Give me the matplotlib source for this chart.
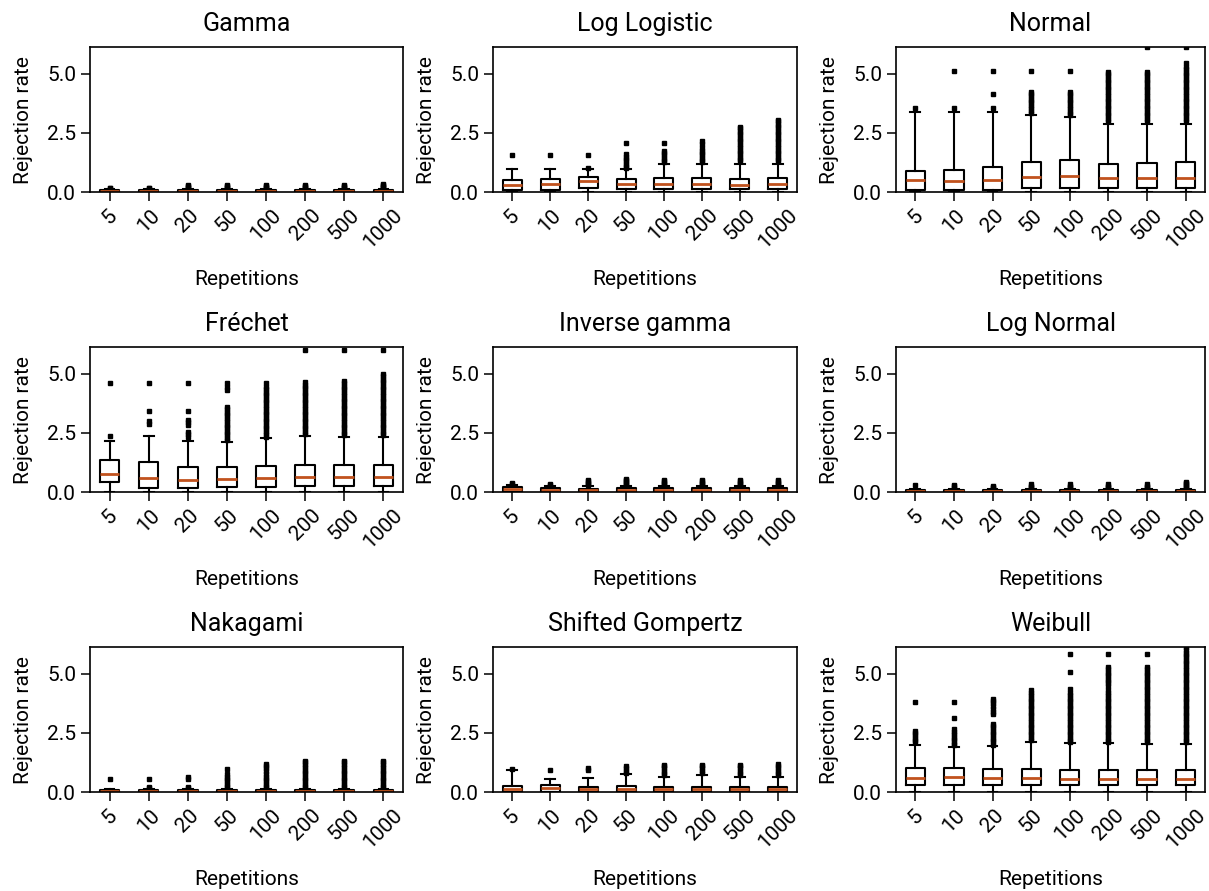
import matplotlib
matplotlib.use("Agg")
import matplotlib.pyplot as plt

plt.rcParams['font.family'] = ['Roboto', 'DejaVu Sans']

# -----------------------------
# Data
# -----------------------------
reps = ["5", "10", "20", "50", "100", "200", "500", "1000"]

# Gamma
gamma_q1 = [0.01, 0.01, 0.01, 0.01, 0.01, 0.01, 0.01, 0.01]
gamma_med = [0.04, 0.04, 0.05, 0.05, 0.05, 0.05, 0.05, 0.05]
gamma_q3 = [0.07, 0.07, 0.08, 0.08, 0.08, 0.08, 0.08, 0.08]
gamma_hi = [0.12, 0.12, 0.13, 0.13, 0.13, 0.13, 0.13, 0.13]
gamma_fliers = [
    [0.16, 0.19],
    [0.15, 0.18],
    [0.16, 0.2, 0.25, 0.3],
    [0.16, 0.2, 0.25, 0.3],
    [0.16, 0.2, 0.25, 0.3],
    [0.16, 0.2, 0.25, 0.3],
    [0.16, 0.2, 0.25, 0.3],
    [0.16, 0.2, 0.25, 0.3, 0.35],
]

# Log Logistic
ll_q1 = [0.1, 0.1, 0.17, 0.13, 0.13, 0.13, 0.13, 0.13]
ll_med = [0.31, 0.34, 0.45, 0.34, 0.34, 0.34, 0.31, 0.34]
ll_q3 = [0.51, 0.54, 0.62, 0.55, 0.59, 0.59, 0.55, 0.58]
ll_hi = [0.99, 0.99, 0.97, 0.97, 1.2, 1.2, 1.2, 1.2]
ll_fliers = [
    [1.58],
    [1.58],
    [1.0, 1.58],
    [1.0, 1.1, 1.2, 1.3, 1.4, 1.5, 1.6, 2.07],
    [1.25, 1.35, 1.45, 1.55, 1.65, 1.75, 2.07],
    [1.25, 1.35, 1.45, 1.55, 1.65, 1.75, 1.85, 2.05, 2.15],
    [1.3, 1.4, 1.5, 1.6, 1.7, 1.8, 1.9, 2.0, 2.1, 2.2, 2.3,
     2.4, 2.5, 2.6, 2.7, 2.75],
    [1.3, 1.4, 1.5, 1.6, 1.7, 1.8, 1.9, 2.0, 2.1, 2.2, 2.3,
     2.4, 2.5, 2.6, 2.7, 2.8, 2.9, 3.0, 3.05],
]

# Normal
n_q1 = [0.07, 0.07, 0.07, 0.16, 0.16, 0.16, 0.16, 0.16]
n_med = [0.51, 0.48, 0.52, 0.65, 0.66, 0.61, 0.61, 0.61]
n_q3 = [0.88, 0.93, 1.06, 1.26, 1.37, 1.19, 1.23, 1.26]
n_hi = [3.39, 3.39, 3.39, 3.26, 3.16, 2.9, 2.9, 2.9]
n_fliers = [
    [3.55],
    [3.55, 5.11],
    [3.55, 4.17, 5.11],
    [3.35, 3.45, 3.55, 3.65, 3.75, 3.85, 3.95, 4.05, 4.15, 4.25, 5.11],
    [3.25, 3.35, 3.45, 3.55, 3.65, 3.75, 3.85, 3.95, 4.05, 4.15,
     4.25, 5.11],
    [3.0, 3.1, 3.2, 3.3, 3.4, 3.5, 3.6, 3.7, 3.8, 3.9, 4.0, 4.1,
     4.2, 4.3, 4.4, 4.5, 4.6, 4.7, 4.8, 4.9, 5.0, 5.1],
    [3.0, 3.1, 3.2, 3.3, 3.4, 3.5, 3.6, 3.7, 3.8, 3.9, 4.0, 4.1,
     4.2, 4.3, 4.4, 4.5, 4.6, 4.7, 4.8, 4.9, 5.0, 5.1, 6.12],
    [3.0, 3.1, 3.2, 3.3, 3.4, 3.5, 3.6, 3.7, 3.8, 3.9, 4.0, 4.1,
     4.2, 4.3, 4.4, 4.5, 4.6, 4.7, 4.8, 4.9, 5.0, 5.1, 5.2, 5.3,
     5.45, 6.12],
]

# Frechet
f_q1 = [0.42, 0.17, 0.17, 0.21, 0.21, 0.24, 0.24, 0.27]
f_med = [0.76, 0.59, 0.52, 0.56, 0.59, 0.62, 0.64, 0.65]
f_q3 = [1.37, 1.27, 1.05, 1.05, 1.12, 1.14, 1.14, 1.14]
f_hi = [2.16, 2.39, 2.16, 2.1, 2.29, 2.39, 2.33, 2.33]
f_fliers = [
    [2.39, 4.62],
    [2.9, 3.0, 3.45, 4.62],
    [2.35, 2.45, 2.55, 2.85, 2.95, 3.05, 3.45, 4.62],
    [2.2, 2.3, 2.4, 2.5, 2.6, 2.7, 2.8, 2.9, 3.0, 3.1, 3.2, 3.3,
     3.4, 3.5, 3.6, 4.3, 4.45, 4.6],
    [2.35, 2.45, 2.55, 2.65, 2.75, 2.85, 2.95, 3.05, 3.15, 3.25,
     3.35, 3.45, 3.55, 3.65, 3.75, 3.85, 3.95, 4.05, 4.15, 4.25,
     4.35, 4.45, 4.6],
    [2.45, 2.55, 2.65, 2.75, 2.85, 2.95, 3.05, 3.15, 3.25, 3.35,
     3.45, 3.55, 3.65, 3.75, 3.85, 3.95, 4.05, 4.15, 4.25, 4.35,
     4.45, 4.55, 4.65, 6.0],
    [2.4, 2.5, 2.6, 2.7, 2.8, 2.9, 3.0, 3.1, 3.2, 3.3, 3.4, 3.5,
     3.6, 3.7, 3.8, 3.9, 4.0, 4.1, 4.2, 4.3, 4.4, 4.5, 4.6, 4.7, 6.0],
    [2.4, 2.5, 2.6, 2.7, 2.8, 2.9, 3.0, 3.1, 3.2, 3.3, 3.4, 3.5,
     3.6, 3.7, 3.8, 3.9, 4.0, 4.1, 4.2, 4.3, 4.4, 4.5, 4.6, 4.7,
     4.8, 4.9, 5.0, 6.0],
]

# Inverse gamma
ig_q1 = [0.02, 0.02, 0.02, 0.02, 0.02, 0.02, 0.02, 0.02]
ig_med = [0.13, 0.1, 0.08, 0.08, 0.08, 0.08, 0.08, 0.08]
ig_q3 = [0.2, 0.17, 0.14, 0.15, 0.15, 0.15, 0.15, 0.15]
ig_hi = [0.3, 0.27, 0.24, 0.25, 0.25, 0.25, 0.25, 0.25]
ig_fliers = [
    [0.34, 0.38],
    [0.3, 0.34],
    [0.3, 0.35, 0.4, 0.45, 0.5],
    [0.3, 0.35, 0.4, 0.45, 0.5, 0.55],
    [0.3, 0.35, 0.4, 0.45, 0.5],
    [0.3, 0.35, 0.4, 0.45, 0.5],
    [0.3, 0.35, 0.4, 0.45, 0.5],
    [0.3, 0.35, 0.4, 0.45, 0.5],
]

# Log Normal
ln_q1 = [0.01, 0.01, 0.01, 0.01, 0.01, 0.01, 0.01, 0.01]
ln_med = [0.04, 0.04, 0.04, 0.04, 0.04, 0.04, 0.04, 0.04]
ln_q3 = [0.07, 0.07, 0.07, 0.07, 0.07, 0.07, 0.07, 0.07]
ln_hi = [0.12, 0.12, 0.12, 0.12, 0.12, 0.12, 0.12, 0.12]
ln_fliers = [
    [0.3],
    [0.18, 0.24, 0.28],
    [0.17, 0.22, 0.27],
    [0.17, 0.22, 0.27, 0.32],
    [0.17, 0.22, 0.27, 0.32],
    [0.17, 0.22, 0.27, 0.32],
    [0.17, 0.22, 0.27, 0.32],
    [0.17, 0.22, 0.27, 0.32, 0.37, 0.41],
]

# Nakagami
nk_q1 = [0.01, 0.01, 0.01, 0.01, 0.01, 0.01, 0.01, 0.01]
nk_med = [0.05, 0.05, 0.05, 0.05, 0.05, 0.05, 0.05, 0.05]
nk_q3 = [0.09, 0.09, 0.09, 0.09, 0.09, 0.09, 0.09, 0.09]
nk_hi = [0.14, 0.14, 0.14, 0.14, 0.14, 0.14, 0.14, 0.14]
nk_fliers = [
    [0.56],
    [0.17, 0.22, 0.56],
    [0.17, 0.22, 0.55, 0.65],
    [0.17, 0.25, 0.35, 0.45, 0.55, 0.65, 0.75, 0.97],
    [0.17, 0.25, 0.35, 0.45, 0.55, 0.65, 0.75, 0.9, 1.0, 1.1, 1.2],
    [0.17, 0.25, 0.35, 0.45, 0.55, 0.65, 0.75, 0.85, 0.95, 1.05,
     1.15, 1.25, 1.32],
    [0.17, 0.25, 0.35, 0.45, 0.55, 0.65, 0.75, 0.85, 0.95, 1.05,
     1.15, 1.25, 1.32],
    [0.17, 0.25, 0.35, 0.45, 0.55, 0.65, 0.75, 0.85, 0.95, 1.05,
     1.15, 1.25, 1.32],
]

# Shifted Gompertz
sg_q1 = [0.01, 0.01, 0.01, 0.01, 0.01, 0.01, 0.01, 0.01]
sg_med = [0.14, 0.17, 0.14, 0.14, 0.14, 0.14, 0.14, 0.14]
sg_q3 = [0.25, 0.31, 0.22, 0.24, 0.22, 0.22, 0.22, 0.22]
sg_hi = [0.92, 0.55, 0.6, 0.78, 0.65, 0.74, 0.63, 0.63]
sg_fliers = [
    [0.97],
    [0.95],
    [0.93, 1.0],
    [0.82, 0.9, 1.0, 1.1],
    [0.7, 0.8, 0.9, 1.0, 1.1, 1.15],
    [0.8, 0.9, 1.0, 1.1, 1.15],
    [0.7, 0.8, 0.9, 1.0, 1.1, 1.15],
    [0.7, 0.8, 0.9, 1.0, 1.1, 1.18],
]

# Weibull
w_q1 = [0.28, 0.28, 0.28, 0.28, 0.28, 0.28, 0.28, 0.28]
w_med = [0.6, 0.62, 0.6, 0.59, 0.55, 0.55, 0.55, 0.55]
w_q3 = [1.0, 1.0, 0.96, 0.96, 0.93, 0.93, 0.93, 0.93]
w_hi = [1.98, 1.92, 1.95, 2.12, 2.06, 2.06, 2.03, 2.03]
w_fliers = [
    [2.1, 2.2, 2.3, 2.4, 2.5, 2.6, 3.82],
    [1.97, 2.05, 2.15, 2.25, 2.35, 2.45, 2.55, 2.65, 3.14, 3.82],
    [2.0, 2.1, 2.2, 2.3, 2.4, 2.5, 2.6, 2.7, 2.8, 2.9, 3.3, 3.4,
     3.5, 3.65, 3.75, 3.85, 3.95],
    [2.2, 2.3, 2.4, 2.5, 2.6, 2.7, 2.8, 2.9, 3.0, 3.1, 3.2, 3.3,
     3.4, 3.5, 3.6, 3.7, 3.8, 3.9, 4.0, 4.1, 4.2, 4.3],
    [2.1, 2.2, 2.3, 2.4, 2.5, 2.6, 2.7, 2.8, 2.9, 3.0, 3.1, 3.2,
     3.3, 3.4, 3.5, 3.6, 3.7, 3.8, 3.9, 4.0, 4.1, 4.2, 4.35, 5.1, 5.85],
    [2.1, 2.2, 2.3, 2.4, 2.5, 2.6, 2.7, 2.8, 2.9, 3.0, 3.1, 3.2,
     3.3, 3.4, 3.5, 3.6, 3.7, 3.8, 3.9, 4.0, 4.1, 4.2, 4.3, 4.5,
     4.6, 4.7, 4.8, 4.9, 5.0, 5.1, 5.2, 5.3, 5.85],
    [2.1, 2.2, 2.3, 2.4, 2.5, 2.6, 2.7, 2.8, 2.9, 3.0, 3.1, 3.2,
     3.3, 3.4, 3.5, 3.6, 3.7, 3.8, 3.9, 4.0, 4.1, 4.2, 4.3, 4.4,
     4.5, 4.6, 4.7, 4.8, 4.9, 5.0, 5.1, 5.2, 5.3, 5.85],
    [2.1, 2.2, 2.3, 2.4, 2.5, 2.6, 2.7, 2.8, 2.9, 3.0, 3.1, 3.2,
     3.3, 3.4, 3.5, 3.6, 3.7, 3.8, 3.9, 4.0, 4.1, 4.2, 4.3, 4.4,
     4.5, 4.6, 4.7, 4.8, 4.9, 5.0, 5.1, 5.2, 5.3, 5.4, 5.5, 5.6,
     5.7, 5.8, 5.9, 6.0, 6.15],
]

panels = [
    ("Gamma", gamma_q1, gamma_med, gamma_q3, gamma_hi, gamma_fliers),
    ("Log Logistic", ll_q1, ll_med, ll_q3, ll_hi, ll_fliers),
    ("Normal", n_q1, n_med, n_q3, n_hi, n_fliers),
    ("Fréchet", f_q1, f_med, f_q3, f_hi, f_fliers),
    ("Inverse gamma", ig_q1, ig_med, ig_q3, ig_hi, ig_fliers),
    ("Log Normal", ln_q1, ln_med, ln_q3, ln_hi, ln_fliers),
    ("Nakagami", nk_q1, nk_med, nk_q3, nk_hi, nk_fliers),
    ("Shifted Gompertz", sg_q1, sg_med, sg_q3, sg_hi, sg_fliers),
    ("Weibull", w_q1, w_med, w_q3, w_hi, w_fliers),
]

# -----------------------------
# Layout
# -----------------------------
fig, axes = plt.subplots(3, 3, figsize=(12.09, 8.91), dpi=100)

col_left = [0.0744, 0.4078, 0.7411]
col_width = [0.2589, 0.2514, 0.2556]
row_bottom = [0.7845, 0.4478, 0.1111]
row_height = 0.1622

median_color = "#c1521d"

for i, (name, q1, med, q3, hi, fl) in enumerate(panels):
    r, c = i // 3, i % 3
    ax = axes[r][c]
    ax.set_position([col_left[c], row_bottom[r], col_width[c], row_height])

    stats = []
    for k in range(len(reps)):
        stats.append({
            "med": med[k], "q1": q1[k], "q3": q3[k],
            "whislo": 0.0, "whishi": hi[k],
            "fliers": fl[k], "label": reps[k],
        })

    ax.bxp(
        stats,
        widths=0.5,
        boxprops=dict(color="black", linewidth=1.5),
        whiskerprops=dict(color="black", linewidth=1.5),
        capprops=dict(color="black", linewidth=1.5),
        medianprops=dict(color=median_color, linewidth=2.0),
        flierprops=dict(marker="s", markersize=3.2, markerfacecolor="black",
                        markeredgecolor="black", linestyle="none"),
    )

    ax.set_ylim(0, 6.12)
    ax.set_yticks([0.0, 2.5, 5.0])
    ax.set_yticklabels(["0.0", "2.5", "5.0"])
    ax.set_xticklabels(reps, rotation=45)
    ax.tick_params(axis="both", labelsize=15, length=6.5, width=1.1)
    for s in ax.spines.values():
        s.set_linewidth(1.2)

    ax.set_title(name, fontsize=18, pad=12)
    ax.set_ylabel("Rejection rate", fontsize=15, labelpad=10)
    ax.set_xlabel("Repetitions", fontsize=15, labelpad=13)

plt.savefig("out.png", dpi=100)
